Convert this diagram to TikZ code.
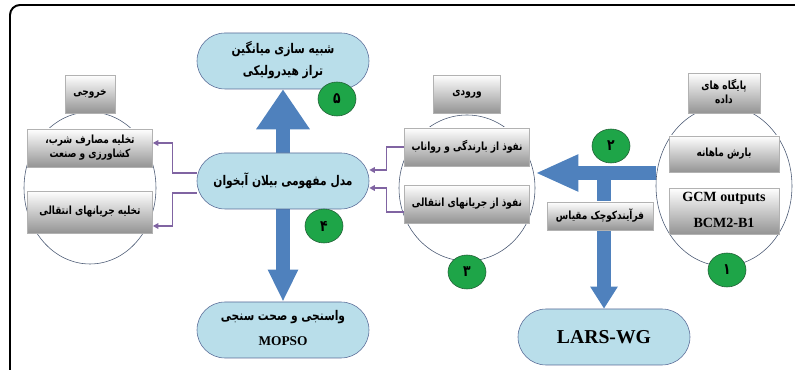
\documentclass[tikz,border=0pt]{standalone}
\usepackage{fontspec}
\setmainfont{Liberation Serif}
\newfontfamily\farsi[Script=Arabic, FakeStretch=0.8]{DejaVu Sans}
\TeXXeTstate=1
\usetikzlibrary{shapes.geometric,arrows.meta,backgrounds}
\definecolor{nodeblue}{RGB}{185,222,234}
\definecolor{nodeedge}{RGB}{88,106,150}
\definecolor{arrowblue}{RGB}{79,129,189}
\definecolor{numgreen}{RGB}{30,165,72}
\definecolor{numedge}{RGB}{35,95,55}
\definecolor{linkpurple}{RGB}{128,100,162}
\definecolor{ringedge}{RGB}{70,85,112}
\newcommand{\fatext}[1]{\mbox{\farsi\beginR #1\endR}}
\newcommand{\twolines}[3]{\begin{tabular}{@{}c@{}}#1\\[#3]#2\end{tabular}}
\tikzstyle{stage} = [rectangle, rounded corners=0.7cm, minimum width=4.3cm, minimum height=1.4cm, draw=nodeedge, fill=nodeblue, font=\bfseries\fontsize{9.5}{11}\selectfont]
\tikzstyle{ring} = [ellipse, draw=ringedge, fill=white, inner sep=0pt]
\tikzstyle{item} = [rectangle, draw=black!30, top color=white, bottom color=black!42, inner sep=1pt, font=\bfseries\fontsize{8}{9}\selectfont]
\tikzstyle{badge} = [ellipse, minimum width=0.95cm, minimum height=0.85cm, inner sep=0pt, draw=numedge, fill=numgreen, font=\bfseries\fontsize{11}{12}\selectfont]
\tikzstyle{link} = [draw=linkpurple, line width=1pt, -{Triangle[length=4pt, width=4pt]}]
\tikzstyle{bigarrow} = [draw=arrowblue, line width=0.33cm]
\tikzstyle{panel} = [draw=black, line width=1.4pt, rounded corners=0.25cm]

\begin{document}
\begin{tikzpicture}[node distance=1cm]

\useasboundingbox (0,0) rectangle (19.875,-9.25);
\clip (0,0) rectangle (19.875,-9.25);
\draw [panel] (0.25,-0.125) rectangle (20.5,-9.8);

\node (model) [stage] at (7.075,-4.525) {\fatext{مدل مفهومی بیلان آبخوان}};
\node (hydro) [stage, above of=model, yshift=2.0cm] {\twolines{\fatext{شبیه سازی میانگین}}{\fatext{تراز هیدرولیکی}}{5pt}};
\node (calib) [stage, below of=model, yshift=-2.725cm] {\twolines{\fatext{واسنجی و صحت سنجی}}{MOPSO}{7pt}};
\node (lars) [stage, right of=calib, xshift=7.025cm, yshift=-0.175cm, font=\bfseries\fontsize{14}{16}\selectfont] {LARS-WG};

\node (outring) [ring, minimum width=3.3cm, minimum height=3.8cm, left of=model, xshift=-3.825cm, yshift=-0.175cm] {};
\node (inring) [ring, minimum width=3.4cm, minimum height=3.65cm, right of=model, xshift=3.6cm, yshift=-0.175cm] {};
\node (dataring) [ring, minimum width=3.4cm, minimum height=4.0cm, right of=inring, xshift=5.425cm, yshift=0.05cm] {};

\node (outhead) [item, above of=outring, yshift=1.35cm, minimum width=1.25cm, minimum height=0.95cm] {\fatext{خروجی}};
\node (outone) [item, above of=outring, minimum width=3.125cm, minimum height=0.95cm] {\twolines{\fatext{تخلیه مصارف شرب،}}{\fatext{کشاورزی و صنعت}}{1pt}};
\node (outtwo) [item, below of=outring, yshift=0.4cm, minimum width=3.125cm, minimum height=1.05cm] {\fatext{تخلیه جریانهای انتقالی}};

\node (inhead) [item, above of=inring, yshift=1.35cm, minimum width=1.675cm, minimum height=0.95cm] {\fatext{ورودی}};
\node (inone) [item, above of=inring, yshift=0.025cm, minimum width=3.125cm, minimum height=0.95cm] {\fatext{نفوذ از بارندگی و رواناب}};
\node (intwo) [item, below of=inring, yshift=0.6cm, minimum width=3.125cm, minimum height=0.95cm] {\fatext{نفوذ از جریانهای انتقالی}};

\node (datahead) [item, above of=dataring, yshift=1.325cm, minimum width=1.8cm, minimum height=1.0cm] {\twolines{\fatext{پایگاه های}}{\fatext{داده}}{1pt}};
\node (dataone) [item, above of=dataring, yshift=-0.2cm, minimum width=2.75cm, minimum height=0.9cm] {\fatext{بارش ماهانه}};
\node (datatwo) [item, below of=dataring, yshift=0.375cm, minimum width=2.75cm, minimum height=1.125cm, font=\bfseries\fontsize{10}{12}\selectfont] {\twolines{GCM outputs}{BCM2-B1}{7pt}};

\node (downscale) [item, above of=lars, yshift=2.025cm, xshift=-0.1cm, minimum width=2.65cm, minimum height=0.7cm] {\fatext{فرآیندکوچک مقیاس}};
\coordinate [right of=inring, xshift=2.425cm, yshift=0.375cm] (split);

\node (numfive) [badge, below of=hydro, xshift=1.35cm, yshift=0.05cm] {\fatext{۵}};
\node (numfour) [badge, below of=model, xshift=1.025cm, yshift=-0.125cm] {\fatext{۴}};
\node (numthree) [badge, below of=inring, yshift=-1.1cm] {\fatext{۳}};
\node (numtwo) [badge, above of=downscale, yshift=0.75cm, xshift=0.275cm] {\fatext{۲}};
\node (numone) [badge, below of=dataring, yshift=-1.1cm, xshift=0.075cm] {\fatext{۱}};

\begin{scope}[on background layer]
\draw [bigarrow, -{Triangle[width=1.275cm, length=1cm]}] (model) -- (hydro);
\draw [bigarrow, -{Triangle[width=0.7cm, length=0.8cm]}] (model) -- (calib);
\draw [bigarrow, -{Triangle[width=0.85cm, length=1.075cm]}] (dataring.west |- split) -- (inring.east |- split);
\draw [bigarrow, -{Triangle[width=0.65cm, length=0.55cm]}] (split) -- (split |- lars.north);
\end{scope}

\draw [link] ([yshift=0.2cm]model.west) -- ++(-0.6,0) |- ([yshift=0.125cm]outone.east);
\draw [link] ([yshift=-0.3cm]model.west) -- ++(-0.6,0) |- ([yshift=-0.35cm]outtwo.east);
\draw [link] (inone.west) -- ++(-0.45,0) |- ([yshift=0.275cm]model.east);
\draw [link] ([yshift=-0.2cm]intwo.west) -- ++(-0.45,0) |- ([yshift=-0.175cm]model.east);

\end{tikzpicture}
\end{document}
